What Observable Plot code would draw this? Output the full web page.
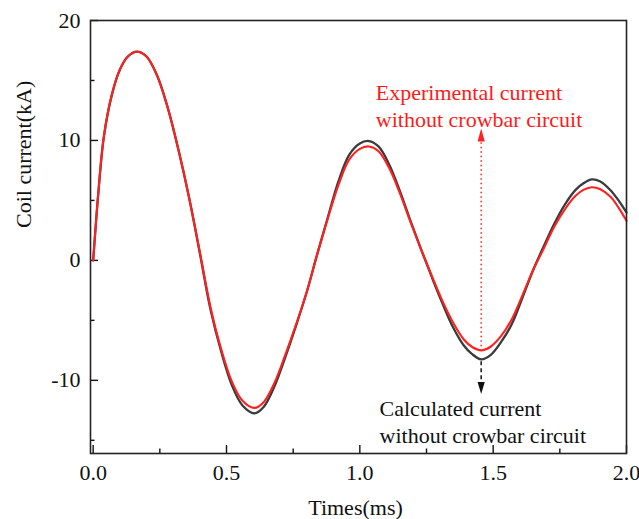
<!DOCTYPE html>
<html>
<head>
<meta charset="utf-8">
<script src="https://cdn.jsdelivr.net/npm/d3@7"></script>
<script src="https://cdn.jsdelivr.net/npm/@observablehq/plot@0.6"></script>
<style>
  html, body { margin: 0; padding: 0; background: #fff; }
</style>
</head>
<body>
<div id="chart"></div>
<script>
// ---- data ----
const times = [0, 0.01, 0.02, 0.04, 0.07, 0.10, 0.13, 0.164, 0.20, 0.24, 0.28, 0.32, 0.36, 0.40, 0.44, 0.48, 0.52, 0.56, 0.605, 0.64, 0.68, 0.72, 0.76, 0.80, 0.84, 0.88, 0.92, 0.96, 1.00, 1.034, 1.07, 1.11, 1.15, 1.19, 1.23, 1.27, 1.31, 1.35, 1.39, 1.42, 1.455, 1.49, 1.53, 1.57, 1.61, 1.65, 1.69, 1.73, 1.77, 1.81, 1.84, 1.87, 1.90, 1.94, 1.97, 2.0];
const experimental = [0, 3.0, 5.8, 10.3, 13.8, 15.9, 17.0, 17.4, 17.0, 15.4, 12.7, 9.2, 5.2, 0.7, -3.9, -7.4, -10.1, -11.7, -12.3, -11.8, -10.2, -7.9, -5.4, -2.7, 0.5, 3.5, 6.3, 8.4, 9.3, 9.5, 9.1, 7.7, 5.6, 3.2, 0.9, -1.3, -3.4, -5.2, -6.6, -7.2, -7.5, -7.2, -6.3, -4.9, -2.9, -0.8, 1.0, 2.85, 4.3, 5.4, 5.9, 6.1, 5.95, 5.3, 4.4, 3.3];
const calculated = [0, 3.0, 5.8, 10.3, 13.8, 15.9, 17.0, 17.4, 17.0, 15.4, 12.7, 9.2, 5.2, 0.6, -4.1, -7.6, -10.4, -12.1, -12.75, -12.2, -10.5, -8.1, -5.5, -2.7, 0.5, 3.6, 6.6, 8.8, 9.75, 9.95, 9.5, 8.0, 5.8, 3.3, 0.9, -1.4, -3.6, -5.6, -7.1, -7.8, -8.25, -7.9, -6.8, -5.3, -3.1, -0.8, 1.2, 3.1, 4.7, 5.9, 6.45, 6.75, 6.6, 5.85, 5.0, 4.0];

const xMajor = [0, 0.5, 1.0, 1.5, 2.0];
const xMinor = [0.25, 0.75, 1.25, 1.75];
const yMajor = [-10, 0, 10, 20];
const yMinor = [-15, -5, 5, 15];

const xLabel = "Times(ms)";
const yLabel = "Coil current(kA)";

// annotations (data units)
const expNote = {t: 1.06, y: 15.0, text: "Experimental current\nwithout crowbar circuit"};
const calNote = {t: 1.074, y: -11.36, text: "Calculated current\nwithout crowbar circuit"};
const arrowT = 1.455;
const expArrow = {from: -7.2, to: 9.92, tip: 11.0};
const calArrow = {from: -8.45, to: -10.2, tip: -11.13};

// ---- build ----
const expData = times.map((t, i) => ({t, v: experimental[i]}));
const calData = times.map((t, i) => ({t, v: calculated[i]}));

const upHead = {draw(ctx) { ctx.moveTo(0, 0); ctx.lineTo(-3.6, 13); ctx.lineTo(3.6, 13); ctx.closePath(); }};
const downHead = {draw(ctx) { ctx.moveTo(0, 0); ctx.lineTo(-3.6, -12); ctx.lineTo(3.6, -12); ctx.closePath(); }};

const W = 639, H = 519;
const mL = 90, mR = 13, mT = 20, mB = 66;
const fw = W - mL - mR, fh = H - mT - mB;

const chart = Plot.plot({
  width: W,
  height: H,
  marginLeft: mL,
  marginRight: mR,
  marginTop: mT,
  marginBottom: mB,
  style: {fontFamily: "'Liberation Serif', 'Times New Roman', serif", fontSize: "22px", color: "#111", background: "#fff"},
  x: {domain: [-0.01, 2.0]},
  y: {domain: [-16.1, 20]},
  marks: [
    Plot.axisX({ticks: xMajor, tickSize: 0, tickPadding: 11, tickFormat: d => d.toFixed(1), label: null}),
    Plot.axisY({ticks: yMajor, tickSize: 0, tickPadding: 10, tickFormat: d => `${d}`, label: null}),
    // inward ticks
    Plot.tickX(xMajor, {x: d => d, insetTop: fh - 8, stroke: "#111", strokeWidth: 1.4}),
    Plot.tickX(xMinor, {x: d => d, insetTop: fh - 4.5, stroke: "#111", strokeWidth: 1.4}),
    Plot.tickY(yMajor, {y: d => d, insetRight: fw - 8, stroke: "#111", strokeWidth: 1.4}),
    Plot.tickY(yMinor, {y: d => d, insetRight: fw - 4.5, stroke: "#111", strokeWidth: 1.4}),
    // curves
    Plot.line(calData, {x: "t", y: "v", stroke: "#3b3b3b", strokeWidth: 2.3, curve: "catmull-rom"}),
    Plot.line(expData, {x: "t", y: "v", stroke: "#ff2020", strokeWidth: 2.1, curve: "catmull-rom"}),
    // arrows
    Plot.ruleX([arrowT], {x: d => d, y1: expArrow.from, y2: expArrow.to, stroke: "#ff2020", strokeWidth: 1.5, strokeDasharray: "1.5,3"}),
    Plot.dot([arrowT], {x: d => d, y: expArrow.tip, symbol: upHead, fill: "#ff2020", stroke: "none"}),
    Plot.ruleX([arrowT], {x: d => d, y1: calArrow.from, y2: calArrow.to, stroke: "#111", strokeWidth: 1.5, strokeDasharray: "4,3"}),
    Plot.dot([arrowT], {x: d => d, y: calArrow.tip, symbol: downHead, fill: "#111", stroke: "none"}),
    // annotation texts
    Plot.text([expNote], {x: "t", y: "y", text: "text", textAnchor: "start", lineAnchor: "top", lineHeight: 1.25, fill: "#ff1a1a", fontSize: 22}),
    Plot.text([calNote], {x: "t", y: "y", text: "text", textAnchor: "start", lineAnchor: "top", lineHeight: 1.22, fill: "#111", fontSize: 22}),
    // axis titles
    Plot.text([xLabel], {text: d => d, frameAnchor: "bottom", dy: 54, dx: -3, lineAnchor: "middle", fill: "#111", fontSize: 22}),
    Plot.text([yLabel], {text: d => d, frameAnchor: "left", rotate: -90, dx: -67, dy: -9, lineAnchor: "middle", fill: "#111", fontSize: 22}),
    Plot.frame({stroke: "#222", strokeWidth: 1.6})
  ]
});

document.getElementById("chart").appendChild(chart);
</script>
</body>
</html>
